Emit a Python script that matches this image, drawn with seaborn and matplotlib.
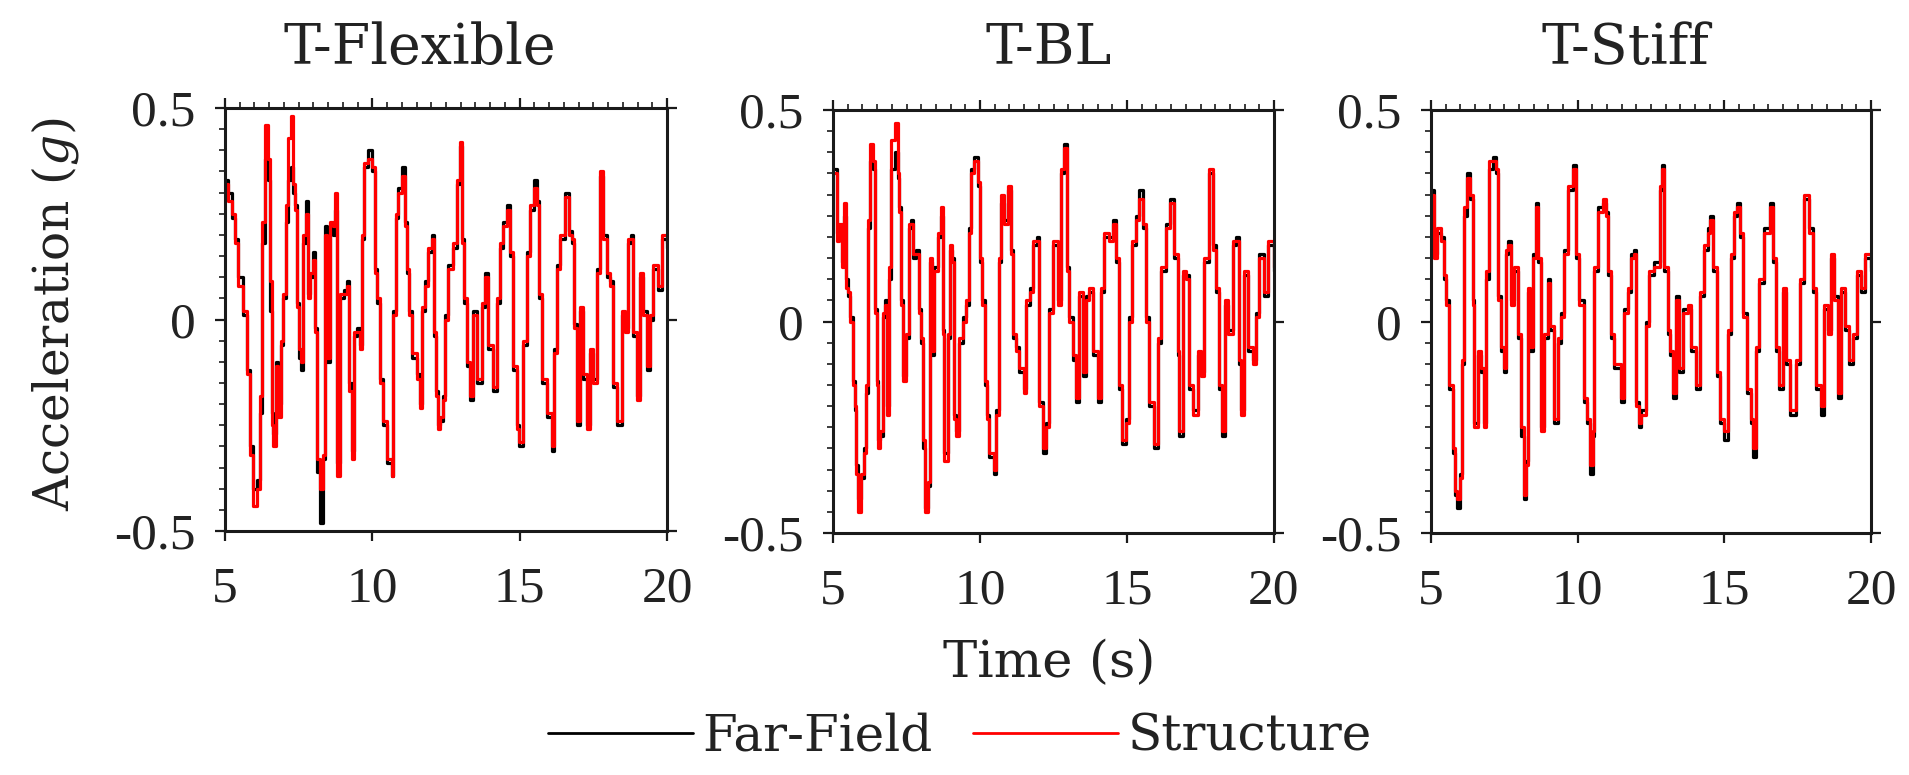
import numpy as np
import pandas as pd
import matplotlib
matplotlib.use("Agg")
import matplotlib.pyplot as plt
from matplotlib.ticker import FixedLocator, FixedFormatter, MultipleLocator
from matplotlib.lines import Line2D
import seaborn as sns

# ---------------- data ----------------
panel_titles = ["T-Flexible", "T-BL", "T-Stiff"]
series_names = ["Far-Field", "Structure"]
x_ticks = [5, 10, 15, 20]
x_tick_labels = ["5", "10", "15", "20"]
y_ticks = [-0.5, 0, 0.5]
y_tick_labels = ["-0.5", "0", "0.5"]

# T-Flexible
t_flex = [5.00, 5.11, 5.23, 5.34, 5.45, 5.62, 5.74, 5.85, 5.96, 6.07, 6.19, 6.24, 6.36, 6.47, 6.53,
          6.58, 6.64, 6.73, 6.81, 6.89, 6.98, 7.06, 7.15, 7.23, 7.32, 7.39, 7.44, 7.51, 7.59, 7.66,
          7.75, 7.81, 7.88, 8.00, 8.05, 8.12, 8.22, 8.34, 8.40, 8.47, 8.56, 8.65, 8.73, 8.80, 8.90,
          9.04, 9.13, 9.20, 9.30, 9.38, 9.49, 9.58, 9.64, 9.72, 9.86, 9.98, 10.09, 10.17, 10.26, 10.37,
          10.49, 10.66, 10.71, 10.79, 10.88, 11.00, 11.11, 11.17, 11.23, 11.33, 11.50, 11.62, 11.69, 11.79, 11.90,
          12.01, 12.09, 12.15, 12.24, 12.30, 12.39, 12.47, 12.58, 12.75, 12.87, 12.96, 13.04, 13.11, 13.20, 13.32,
          13.43, 13.54, 13.71, 13.83, 13.94, 14.11, 14.22, 14.34, 14.45, 14.56, 14.68, 14.79, 14.90, 14.99, 15.13,
          15.24, 15.35, 15.49, 15.58, 15.65, 15.75, 15.92, 16.09, 16.17, 16.26, 16.37, 16.54, 16.66, 16.77, 16.84,
          16.94, 17.05, 17.16, 17.28, 17.39, 17.50, 17.62, 17.73, 17.84, 17.96, 18.07, 18.18, 18.30, 18.47, 18.58,
          18.69, 18.77, 18.86, 18.97, 19.09, 19.20, 19.31, 19.43, 19.54, 19.71, 19.82, 20.00]
st_flex = [0.32, 0.28, 0.25, 0.18, 0.08, 0.02, -0.13, -0.32, -0.44, -0.40, -0.18, 0.23, 0.46, 0.38, 0.09,
           -0.25, -0.30, -0.11, -0.23, -0.05, 0.06, 0.27, 0.43, 0.48, 0.32, 0.26, 0.03, -0.07, -0.10, 0.20,
           0.25, 0.05, 0.11, 0.14, -0.03, -0.33, -0.40, -0.32, 0.20, -0.09, 0.23, 0.22, 0.30, -0.37, 0.06,
           0.06, 0.08, -0.17, -0.33, -0.03, -0.03, -0.07, 0.20, 0.37, 0.38, 0.36, 0.11, 0.05, -0.15, -0.24,
           -0.33, -0.37, 0.01, 0.25, 0.30, 0.34, 0.22, 0.12, 0.01, -0.08, -0.14, -0.21, 0.03, 0.08, 0.17,
           0.19, -0.03, -0.18, -0.26, -0.23, -0.19, 0.00, 0.12, 0.18, 0.33, 0.42, 0.18, 0.05, -0.10, -0.18,
           0.01, -0.14, 0.04, 0.10, -0.06, -0.16, 0.05, 0.18, 0.22, 0.26, 0.16, -0.11, -0.26, -0.29, -0.05,
           0.15, 0.27, 0.31, 0.27, 0.06, -0.14, -0.22, -0.30, -0.08, 0.12, 0.20, 0.29, 0.20, 0.19, -0.02,
           -0.24, 0.03, -0.13, -0.26, -0.07, -0.15, 0.11, 0.35, 0.19, 0.11, 0.08, -0.15, -0.24, 0.02, -0.03,
           0.19, 0.19, -0.03, -0.19, 0.11, 0.01, -0.11, 0.01, 0.13, 0.08, 0.20, 0.18]
ff_flex = [0.33, 0.30, 0.24, 0.19, 0.10, 0.01, -0.12, -0.30, -0.40, -0.38, -0.22, 0.18, 0.38, 0.33, 0.02,
           -0.22, -0.27, -0.10, -0.20, -0.06, 0.05, 0.23, 0.33, 0.36, 0.30, 0.27, 0.04, -0.09, -0.12, 0.18,
           0.28, 0.06, 0.10, 0.16, -0.02, -0.36, -0.48, -0.33, 0.22, -0.10, 0.22, 0.20, 0.26, -0.34, 0.05,
           0.07, 0.09, -0.15, -0.31, -0.04, -0.02, -0.06, 0.19, 0.36, 0.40, 0.35, 0.12, 0.04, -0.14, -0.25,
           -0.34, -0.37, 0.02, 0.24, 0.31, 0.36, 0.23, 0.11, 0.02, -0.09, -0.13, -0.20, 0.02, 0.09, 0.16,
           0.20, -0.04, -0.17, -0.25, -0.24, -0.18, 0.01, 0.13, 0.17, 0.32, 0.41, 0.19, 0.04, -0.11, -0.19,
           0.02, -0.15, 0.03, 0.11, -0.07, -0.17, 0.04, 0.17, 0.23, 0.27, 0.15, -0.12, -0.25, -0.30, -0.06,
           0.16, 0.26, 0.33, 0.28, 0.05, -0.15, -0.23, -0.31, -0.07, 0.13, 0.19, 0.30, 0.21, 0.18, -0.01,
           -0.25, 0.02, -0.14, -0.25, -0.08, -0.14, 0.12, 0.34, 0.20, 0.10, 0.09, -0.16, -0.25, 0.01, -0.02,
           0.18, 0.20, -0.04, -0.18, 0.10, 0.02, -0.12, 0.00, 0.12, 0.07, 0.19, 0.17]

# T-BL
t_bl = [5.00, 5.12, 5.22, 5.29, 5.39, 5.44, 5.52, 5.58, 5.67, 5.74, 5.78, 5.85, 5.95, 6.05, 6.12,
        6.18, 6.26, 6.35, 6.44, 6.49, 6.54, 6.61, 6.69, 6.76, 6.83, 6.89, 6.97, 7.12, 7.20, 7.26,
        7.31, 7.39, 7.48, 7.57, 7.65, 7.73, 7.82, 7.91, 7.99, 8.05, 8.14, 8.22, 8.30, 8.37, 8.45,
        8.56, 8.67, 8.73, 8.79, 8.90, 8.98, 9.05, 9.13, 9.18, 9.30, 9.41, 9.52, 9.61, 9.69, 9.81,
        9.92, 10.00, 10.07, 10.18, 10.24, 10.32, 10.49, 10.54, 10.63, 10.71, 10.83, 10.94, 11.05, 11.11, 11.22,
        11.34, 11.51, 11.56, 11.70, 11.81, 11.93, 12.02, 12.13, 12.25, 12.36, 12.47, 12.64, 12.76, 12.87, 12.95,
        13.04, 13.15, 13.27, 13.38, 13.49, 13.61, 13.72, 13.83, 14.00, 14.12, 14.23, 14.38, 14.51, 14.63, 14.72,
        14.83, 14.97, 15.06, 15.17, 15.31, 15.42, 15.53, 15.65, 15.76, 15.93, 16.04, 16.16, 16.33, 16.46, 16.61,
        16.72, 16.78, 16.89, 17.01, 17.12, 17.23, 17.40, 17.52, 17.63, 17.78, 17.91, 18.03, 18.14, 18.23, 18.35,
        18.42, 18.59, 18.71, 18.82, 18.88, 18.99, 19.11, 19.27, 19.39, 19.50, 19.67, 19.78, 20.00]
st_bl = [0.35, 0.19, 0.23, 0.13, 0.28, 0.08, 0.07, 0.00, -0.15, -0.20, -0.36, -0.45, -0.36, -0.31, -0.15,
         0.24, 0.42, 0.38, 0.02, -0.15, -0.30, -0.26, 0.02, 0.04, -0.22, 0.13, 0.43, 0.47, 0.35, 0.26,
         0.04, -0.14, -0.03, 0.23, 0.23, 0.16, 0.16, 0.02, -0.04, -0.28, -0.45, -0.38, 0.15, -0.07, 0.12,
         0.21, 0.27, -0.03, -0.33, -0.03, 0.18, 0.14, -0.23, -0.27, -0.04, 0.00, 0.05, 0.21, 0.35, 0.38,
         0.33, 0.15, 0.04, -0.14, -0.23, -0.31, -0.35, -0.22, 0.15, 0.30, 0.23, 0.32, 0.16, -0.03, -0.07,
         -0.11, -0.17, 0.05, 0.07, 0.19, 0.19, -0.20, -0.30, -0.25, 0.02, 0.19, 0.04, 0.36, 0.41, 0.12,
         0.00, -0.08, -0.18, 0.07, -0.12, 0.05, 0.08, -0.07, -0.18, 0.08, 0.21, 0.19, 0.23, 0.15, -0.15,
         -0.28, -0.24, 0.00, 0.19, 0.24, 0.29, 0.23, 0.00, -0.19, -0.29, -0.04, 0.13, 0.22, 0.28, 0.16,
         -0.07, -0.26, 0.12, 0.10, -0.15, -0.22, -0.07, -0.13, 0.15, 0.36, 0.17, 0.08, -0.15, -0.26, 0.05,
         -0.03, 0.19, 0.19, -0.09, -0.22, 0.12, -0.06, -0.10, 0.01, 0.15, 0.07, 0.19, 0.13]
ff_bl = [0.36, 0.21, 0.22, 0.14, 0.25, 0.10, 0.06, 0.01, -0.14, -0.21, -0.34, -0.42, -0.37, -0.30, -0.17,
         0.22, 0.38, 0.36, 0.03, -0.14, -0.28, -0.27, 0.01, 0.05, -0.20, 0.10, 0.36, 0.40, 0.34, 0.27,
         0.05, -0.13, -0.04, 0.22, 0.24, 0.15, 0.17, 0.03, -0.05, -0.30, -0.44, -0.39, 0.14, -0.08, 0.13,
         0.20, 0.25, -0.02, -0.31, -0.04, 0.17, 0.15, -0.22, -0.26, -0.05, 0.01, 0.04, 0.22, 0.36, 0.39,
         0.32, 0.14, 0.05, -0.15, -0.22, -0.32, -0.36, -0.21, 0.14, 0.28, 0.24, 0.31, 0.17, -0.04, -0.06,
         -0.12, -0.16, 0.04, 0.08, 0.18, 0.20, -0.19, -0.31, -0.24, 0.03, 0.18, 0.05, 0.35, 0.42, 0.13,
         0.01, -0.09, -0.19, 0.06, -0.13, 0.06, 0.07, -0.08, -0.19, 0.07, 0.20, 0.20, 0.24, 0.14, -0.16,
         -0.29, -0.23, 0.01, 0.18, 0.25, 0.31, 0.22, 0.01, -0.20, -0.30, -0.05, 0.12, 0.23, 0.29, 0.15,
         -0.08, -0.27, 0.11, 0.11, -0.16, -0.21, -0.08, -0.12, 0.14, 0.35, 0.18, 0.07, -0.16, -0.27, 0.04,
         -0.02, 0.18, 0.20, -0.10, -0.21, 0.11, -0.07, -0.09, 0.02, 0.16, 0.06, 0.18, 0.12]

# T-Stiff
t_stiff = [5.00, 5.11, 5.20, 5.34, 5.43, 5.51, 5.63, 5.74, 5.83, 5.89, 6.00, 6.05, 6.11, 6.23, 6.34,
           6.42, 6.48, 6.59, 6.70, 6.82, 6.88, 6.99, 7.10, 7.22, 7.30, 7.39, 7.48, 7.56, 7.64, 7.73,
           7.84, 7.95, 8.07, 8.16, 8.24, 8.30, 8.39, 8.47, 8.58, 8.66, 8.75, 8.86, 8.98, 9.07, 9.18,
           9.32, 9.43, 9.55, 9.66, 9.83, 9.94, 10.06, 10.20, 10.32, 10.43, 10.51, 10.57, 10.68, 10.85, 10.97,
           11.05, 11.14, 11.25, 11.48, 11.59, 11.70, 11.82, 11.93, 11.99, 12.10, 12.16, 12.33, 12.44, 12.61, 12.79,
           12.86, 12.96, 13.07, 13.16, 13.24, 13.35, 13.47, 13.58, 13.75, 13.86, 14.04, 14.18, 14.32, 14.43, 14.52,
           14.60, 14.75, 14.86, 15.00, 15.11, 15.23, 15.34, 15.43, 15.55, 15.63, 15.77, 15.91, 15.97, 16.08, 16.19,
           16.34, 16.54, 16.65, 16.76, 16.88, 16.99, 17.10, 17.25, 17.44, 17.59, 17.73, 17.90, 18.01, 18.13, 18.30,
           18.41, 18.52, 18.64, 18.75, 18.86, 18.98, 19.11, 19.26, 19.38, 19.52, 19.66, 19.80, 20.00]
st_stiff = [0.30, 0.15, 0.22, 0.19, 0.11, 0.04, -0.15, -0.30, -0.40, -0.42, -0.37, -0.09, 0.27, 0.34, 0.30,
            0.04, -0.25, -0.07, -0.11, -0.25, 0.12, 0.38, 0.38, 0.36, 0.05, -0.06, -0.11, 0.17, 0.18, 0.04,
            0.13, -0.03, -0.25, -0.41, -0.34, 0.08, -0.06, 0.15, 0.27, 0.15, -0.26, -0.03, 0.09, -0.01, -0.23,
            -0.04, 0.01, 0.16, 0.32, 0.36, 0.16, 0.04, -0.18, -0.23, -0.34, -0.26, 0.13, 0.26, 0.29, 0.25,
            0.12, -0.03, -0.10, -0.18, 0.02, 0.08, 0.15, 0.16, -0.20, -0.24, -0.22, -0.01, 0.12, 0.13, 0.32,
            0.36, 0.13, -0.02, -0.07, -0.17, 0.05, -0.11, 0.02, 0.04, -0.06, -0.15, 0.07, 0.18, 0.21, 0.24,
            0.13, -0.12, -0.23, -0.26, -0.02, 0.16, 0.26, 0.27, 0.21, 0.01, -0.16, -0.23, -0.30, -0.06, 0.10,
            0.21, 0.27, 0.15, -0.06, -0.15, 0.08, -0.09, -0.21, -0.09, 0.10, 0.30, 0.21, 0.08, -0.15, -0.20,
            0.04, -0.03, 0.16, 0.05, -0.17, 0.08, -0.01, -0.09, -0.03, 0.12, 0.08, 0.16, 0.13]
ff_stiff = [0.31, 0.16, 0.21, 0.20, 0.10, 0.05, -0.16, -0.31, -0.41, -0.44, -0.36, -0.10, 0.25, 0.35, 0.29,
            0.05, -0.24, -0.08, -0.12, -0.24, 0.10, 0.36, 0.39, 0.35, 0.06, -0.07, -0.12, 0.16, 0.19, 0.05,
            0.12, -0.04, -0.27, -0.42, -0.33, 0.07, -0.07, 0.16, 0.28, 0.14, -0.25, -0.04, 0.10, -0.02, -0.24,
            -0.05, 0.02, 0.17, 0.31, 0.37, 0.15, 0.05, -0.19, -0.24, -0.36, -0.27, 0.12, 0.27, 0.28, 0.26,
            0.11, -0.04, -0.11, -0.19, 0.03, 0.07, 0.16, 0.17, -0.19, -0.25, -0.21, 0.00, 0.11, 0.14, 0.31,
            0.37, 0.12, -0.03, -0.08, -0.18, 0.06, -0.12, 0.03, 0.03, -0.07, -0.16, 0.06, 0.17, 0.22, 0.25,
            0.12, -0.13, -0.24, -0.28, -0.03, 0.15, 0.25, 0.28, 0.20, 0.02, -0.17, -0.24, -0.32, -0.07, 0.09,
            0.22, 0.28, 0.14, -0.07, -0.16, 0.07, -0.10, -0.22, -0.10, 0.09, 0.29, 0.22, 0.07, -0.16, -0.22,
            0.03, -0.02, 0.15, 0.06, -0.18, 0.07, -0.02, -0.10, -0.04, 0.11, 0.07, 0.15, 0.12]

panels = [
    (t_flex, ff_flex, st_flex),
    (t_bl, ff_bl, st_bl),
    (t_stiff, ff_stiff, st_stiff),
]

# ---------------- style ----------------
sns.set_theme(style="ticks")
plt.rcParams["font.family"] = ["DejaVu Serif"]
plt.rcParams["mathtext.fontset"] = "dejavuserif"
plt.rcParams["axes.unicode_minus"] = False

palette = {"Far-Field": "#000000", "Structure": "#ff0000"}
widths = {"Far-Field": 2.3, "Structure": 2.3}
frame_color = "#1a1a1a"
tick_font = {"family": "Liberation Serif", "size": 37}

W, H = 1909, 775
fig = plt.figure(figsize=(W / 100, H / 100), dpi=100)

# axes boxes in pixel coordinates: (left, top, right, bottom)
boxes = [(225, 108, 667, 531), (833, 110, 1274, 533), (1431, 110, 1871, 533)]
title_x = [420, 1049, 1625]

for i, ((t, ff, st), (l, tp, r, b)) in enumerate(zip(panels, boxes)):
    ax = fig.add_axes([l / W, 1 - b / H, (r - l) / W, (b - tp) / H])
    df = pd.DataFrame({
        "time": list(t) * 2,
        "accel": list(ff) + list(st),
        "series": ["Far-Field"] * len(t) + ["Structure"] * len(t),
    })
    for name in series_names:
        sns.lineplot(data=df[df["series"] == name], x="time", y="accel",
                     color=palette[name], estimator=None, sort=False,
                     drawstyle="steps-post", linewidth=widths[name], ax=ax)
    ax.set_xlim(5, 20)
    ax.set_ylim(-0.5, 0.5)
    ax.set_xlabel("")
    ax.set_ylabel("")

    ax.xaxis.set_major_locator(FixedLocator(x_ticks))
    ax.xaxis.set_major_formatter(FixedFormatter(x_tick_labels))
    ax.xaxis.set_minor_locator(MultipleLocator(0.5))
    ax.yaxis.set_major_locator(FixedLocator(y_ticks))
    ax.yaxis.set_major_formatter(FixedFormatter(y_tick_labels))
    ax.yaxis.set_minor_locator(MultipleLocator(0.05))

    ax.tick_params(which="major", direction="out", length=7, width=1.6, color=frame_color,
                   top=True, right=True, bottom=True, left=True, pad=14)
    ax.tick_params(which="minor", direction="out", length=4, width=1.2, color=frame_color,
                   top=True, bottom=False, left=True, right=False)
    ax.tick_params(axis="x", which="major", pad=18)
    for lab in ax.get_xticklabels() + ax.get_yticklabels():
        lab.set_fontfamily(tick_font["family"])
        lab.set_fontsize(tick_font["size"])
        lab.set_color("#222222")
    for sp in ax.spines.values():
        sp.set_visible(True)
        sp.set_linewidth(2.2)
        sp.set_color(frame_color)

    fig.text(title_x[i] / W, 1 - 49 / H, panel_titles[i], ha="center", va="center",
             fontsize=40, color="#222222")

fig.text(55 / W, 1 - 314 / H, "Acceleration ($g$)", rotation=90, ha="center", va="center",
         fontsize=35, color="#222222")
fig.text(1049 / W, 1 - 663 / H, "Time (s)", ha="center", va="center",
         fontsize=37, color="#222222")

handles = [Line2D([], [], color=palette[n], linewidth=2.0) for n in series_names]
fig.legend(handles, series_names, loc="center", bbox_to_anchor=(960 / W, 1 - 737 / H),
           ncol=2, frameon=False, fontsize=36, handlelength=2.9, handletextpad=0.2,
           columnspacing=0.8, labelcolor="#222222")

fig.savefig("out.png", dpi=100, facecolor="white")
